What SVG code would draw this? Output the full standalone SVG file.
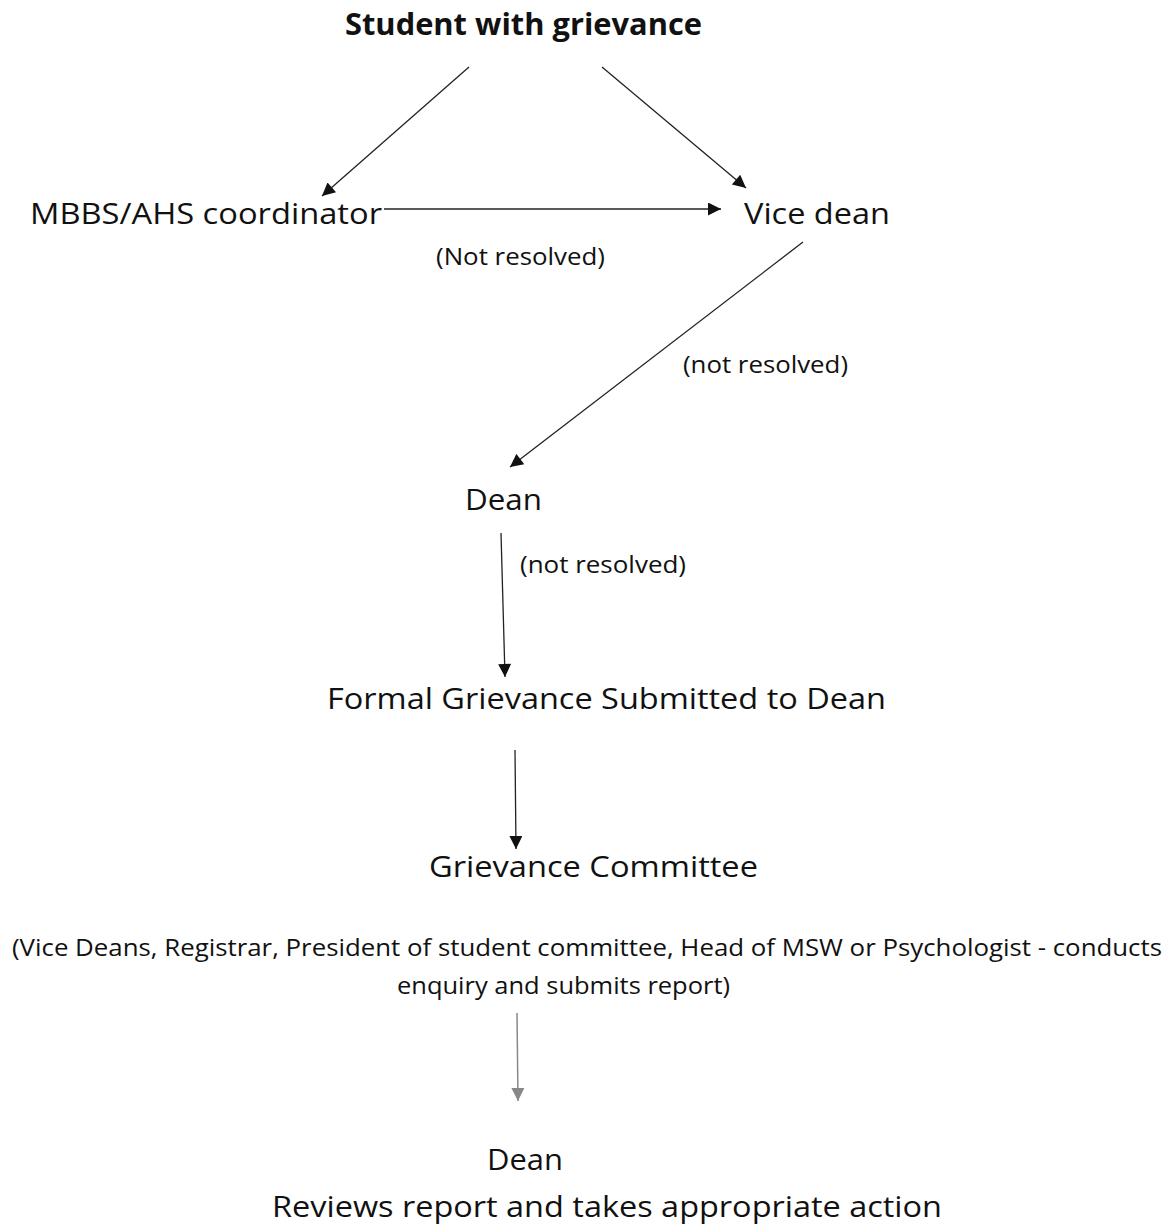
<svg xmlns="http://www.w3.org/2000/svg" width="1170" height="1226" viewBox="0 0 1170 1226">
<style>
text{font-family:"Open Sans","Liberation Sans",sans-serif;fill:#111}
.big{font-size:30px}
.small{font-size:23px}
.bold{font-weight:bold}
.c{stroke:#222;stroke-width:1.3;fill:none}
.g{stroke:#888;stroke-width:1.5;fill:none}
</style>
<defs>
<marker id="ah" viewBox="0 0 10 10" refX="10" refY="5" markerWidth="15" markerHeight="13" markerUnits="userSpaceOnUse" orient="auto"><path d="M0,0 L10,5 L0,10 z" fill="#111"/></marker>
<marker id="ahg" viewBox="0 0 10 10" refX="10" refY="5" markerWidth="14" markerHeight="13" markerUnits="userSpaceOnUse" orient="auto"><path d="M0,0 L10,5 L0,10 z" fill="#888"/></marker>
</defs>
<rect width="1170" height="1226" fill="#fff"/>
<g id="connectors">
<line class="c" x1="469" y1="67" x2="322" y2="196" marker-end="url(#ah)"/>
<line class="c" x1="602" y1="67" x2="746" y2="188" marker-end="url(#ah)"/>
<line class="c" x1="384" y1="209" x2="721" y2="209" marker-end="url(#ah)"/>
<line class="c" x1="803" y1="242" x2="510" y2="467" marker-end="url(#ah)"/>
<line class="c" x1="501" y1="533" x2="505" y2="677" marker-end="url(#ah)"/>
<line class="c" x1="515" y1="750" x2="516" y2="849" marker-end="url(#ah)"/>
<line class="g" x1="517" y1="1013" x2="518" y2="1101" marker-end="url(#ahg)"/>
<text class="small" x="436" y="265" textLength="169" lengthAdjust="spacingAndGlyphs">(Not resolved)</text>
<text class="small" x="683" y="373" textLength="165" lengthAdjust="spacingAndGlyphs">(not resolved)</text>
<text class="small" x="520" y="573" textLength="166" lengthAdjust="spacingAndGlyphs">(not resolved)</text>
</g>
<g id="student"><text class="big bold" x="345" y="35" textLength="357" lengthAdjust="spacingAndGlyphs">Student with grievance</text></g>
<g id="coordinator"><text class="big" x="30" y="224" textLength="352" lengthAdjust="spacingAndGlyphs">MBBS/AHS coordinator</text></g>
<g id="vicedean"><text class="big" x="744" y="224" textLength="146" lengthAdjust="spacingAndGlyphs">Vice dean</text></g>
<g id="dean1"><text class="big" x="465" y="510" textLength="77" lengthAdjust="spacingAndGlyphs">Dean</text></g>
<g id="formal"><text class="big" x="327" y="709" textLength="559" lengthAdjust="spacingAndGlyphs">Formal Grievance Submitted to Dean</text></g>
<g id="committee">
<text class="big" x="429" y="877" textLength="329" lengthAdjust="spacingAndGlyphs">Grievance Committee</text>
<text class="small" x="12" y="956" textLength="1150" lengthAdjust="spacingAndGlyphs">(Vice Deans, Registrar, President of student committee, Head of MSW or Psychologist - conducts</text>
<text class="small" x="397" y="994" textLength="333" lengthAdjust="spacingAndGlyphs">enquiry and submits report)</text>
</g>
<g id="dean2">
<text class="big" x="487" y="1170" textLength="76" lengthAdjust="spacingAndGlyphs">Dean</text>
<text class="big" x="272" y="1217" textLength="670" lengthAdjust="spacingAndGlyphs">Reviews report and takes appropriate action</text>
</g>
</svg>
